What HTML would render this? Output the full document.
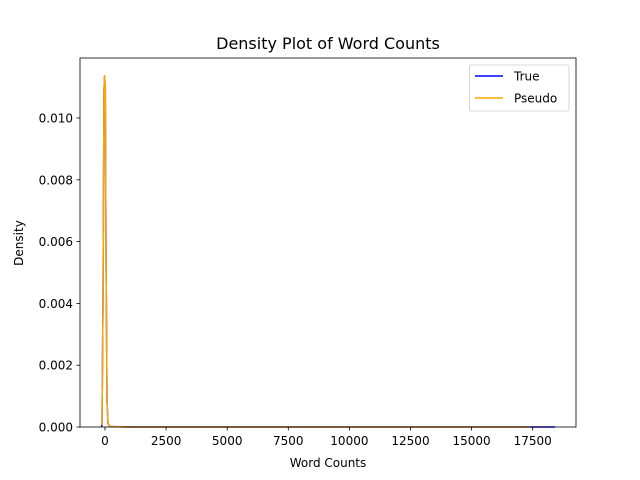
<!DOCTYPE html>
<html><head><style>body{margin:0;background:#fff}svg{display:block}text{font-family:"DejaVu Sans","Liberation Sans",sans-serif;fill:#000}</style></head><body>
<svg width="640" height="480" viewBox="0 0 640 480" xmlns="http://www.w3.org/2000/svg">
<rect width="640" height="480" fill="#fff"/>
<text x="328" y="49" font-size="16" text-anchor="middle">Density Plot of Word Counts</text>
<!-- series -->
<polyline fill="none" stroke="#0000ff" stroke-width="1.5" points="101.5,427 102,424 103,300 104,90 104.6,76 105.3,90 106,250 107,400 108,424 110,426.5 130,427 555,427"/>
<polyline fill="none" stroke="#ffa500" stroke-width="1.5" points="101.5,425 102,423 103,300 104,88 104.6,75 105.3,88 106,250 107,400 108,424 110,426.5 130,427 530,427"/>
<!-- axes -->
<rect x="80" y="58" width="496" height="369" fill="none" stroke="#000" stroke-width="0.8"/>
<g stroke="#000" stroke-width="0.8">
<line x1="105" y1="427" x2="105" y2="430.5"/><line x1="166.1" y1="427" x2="166.1" y2="430.5"/><line x1="227.2" y1="427" x2="227.2" y2="430.5"/><line x1="288.3" y1="427" x2="288.3" y2="430.5"/><line x1="349.4" y1="427" x2="349.4" y2="430.5"/><line x1="410.5" y1="427" x2="410.5" y2="430.5"/><line x1="471.6" y1="427" x2="471.6" y2="430.5"/><line x1="532.7" y1="427" x2="532.7" y2="430.5"/>
<line x1="76.5" y1="427" x2="80" y2="427"/><line x1="76.5" y1="365.2" x2="80" y2="365.2"/><line x1="76.5" y1="303.4" x2="80" y2="303.4"/><line x1="76.5" y1="241.6" x2="80" y2="241.6"/><line x1="76.5" y1="179.8" x2="80" y2="179.8"/><line x1="76.5" y1="118" x2="80" y2="118"/>
</g>
<g font-size="12" text-anchor="middle">
<text x="105" y="445">0</text><text x="166.1" y="445">2500</text><text x="227.2" y="445">5000</text><text x="288.3" y="445">7500</text><text x="349.4" y="445">10000</text><text x="410.5" y="445">12500</text><text x="471.6" y="445">15000</text><text x="532.7" y="445">17500</text>
</g>
<g font-size="12" text-anchor="end">
<text x="73" y="431.5">0.000</text><text x="73" y="369.7">0.002</text><text x="73" y="307.9">0.004</text><text x="73" y="246.1">0.006</text><text x="73" y="184.3">0.008</text><text x="73" y="122.5">0.010</text>
</g>
<text x="328" y="467" font-size="12" text-anchor="middle">Word Counts</text>
<text transform="translate(23,243) rotate(-90)" font-size="12" text-anchor="middle">Density</text>
<!-- legend -->
<rect x="469.5" y="65" width="99.5" height="46" rx="2" fill="#fff" stroke="#ccc" stroke-width="0.8"/>
<line x1="475" y1="76" x2="503" y2="76" stroke="#0000ff" stroke-width="1.5"/>
<text x="514" y="80.5" font-size="12">True</text>
<line x1="475" y1="98" x2="503" y2="98" stroke="#ffa500" stroke-width="1.5"/>
<text x="514" y="102.5" font-size="12">Pseudo</text>
</svg>
</body></html>
